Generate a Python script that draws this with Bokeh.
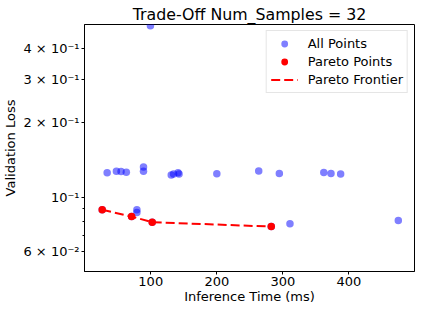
from bokeh.plotting import figure
from bokeh.models import Range1d, FixedTicker, Legend, LegendItem
from bokeh.embed import file_html
from bokeh.resources import INLINE

# All points (inference time in ms, validation loss)
all_time = [34, 48, 55, 63, 89, 89, 79, 79, 131, 134.5, 141.3, 142.8,
            200, 263.4, 294.6, 361.9, 372.8, 387.4, 310.7, 474.7, 99.5,
            26.5, 71.0, 102.2, 282.4]
all_loss = [0.1254, 0.1274, 0.1269, 0.1262, 0.1324, 0.1274, 0.0889, 0.0867,
            0.1228, 0.1240, 0.1254, 0.1240,
            0.1243, 0.1277, 0.1247, 0.1258, 0.1247, 0.1240, 0.0781, 0.0804, 0.494,
            0.0889, 0.0834, 0.0792, 0.0760]

# Pareto points / frontier
pareto_time = [26.5, 71.0, 102.2, 282.4]
pareto_loss = [0.0889, 0.0834, 0.0792, 0.0760]

x_ticks = [100, 200, 300, 400]
y_ticks = [0.06, 0.1, 0.2, 0.3, 0.4]
y_minor = [0.07, 0.08, 0.09]
y_labels = ["6 × 10⁻²", "10⁻¹", "2 × 10⁻¹", "3 × 10⁻¹", "4 × 10⁻¹"]

FONT = "DejaVu Sans"

p = figure(width=416, height=306, y_axis_type="log",
           x_range=Range1d(-0.3, 499.2), y_range=Range1d(0.05, 0.5),
           output_backend="svg", toolbar_location=None,
           min_border_left=84, min_border_right=2, min_border_top=24,
           min_border_bottom=35)

p.title.text = "Trade-Off Num_Samples = 32"
p.title.text_font = FONT
p.title.text_font_size = "15.8px"
p.title.text_font_style = "normal"
p.title.align = "center"
p.title.standoff = 2
p.title.text_color = "black"

p.xgrid.visible = False
p.ygrid.visible = False
p.outline_line_color = "black"
p.outline_line_width = 1
p.outline_line_alpha = 1

for ax in (p.xaxis[0], p.yaxis[0]):
    ax.axis_line_color = "black"
    ax.major_tick_line_color = "black"
    ax.minor_tick_line_color = "black"
    ax.major_tick_in = 0
    ax.minor_tick_in = 0
    ax.major_label_text_font = FONT
    ax.major_label_text_font_size = "13px"
    ax.major_label_text_color = "black"
    ax.axis_label_text_font = FONT
    ax.axis_label_text_font_size = "13px"
    ax.axis_label_text_font_style = "normal"
    ax.axis_label_text_color = "black"

p.xaxis.ticker = FixedTicker(ticks=x_ticks)
p.xaxis.major_tick_out = 3
p.xaxis.minor_tick_out = 0
p.xaxis.major_label_standoff = 2
p.xaxis.axis_label = "Inference Time (ms)"
p.xaxis.axis_label_standoff = 0

p.yaxis.ticker = FixedTicker(ticks=y_ticks, minor_ticks=y_minor)
p.yaxis.major_tick_out = 3
p.yaxis.minor_tick_out = 2
p.yaxis.major_label_standoff = 2
p.yaxis.major_label_overrides = {t: l for t, l in zip(y_ticks, y_labels)}
p.yaxis.axis_label = "Validation Loss"
p.yaxis.axis_label_standoff = 2

r_all = p.scatter(all_time, all_loss, size=7.5, color="blue", alpha=0.5,
                  line_color=None)
r_line = p.line(pareto_time, pareto_loss, line_color="red", line_width=2,
                line_dash="9 4")
r_par = p.scatter(pareto_time, pareto_loss, size=7.5, color="red",
                  line_color=None)

legend = Legend(items=[
    LegendItem(label="All Points", renderers=[r_all]),
    LegendItem(label="Pareto Points", renderers=[r_par]),
    LegendItem(label="Pareto Frontier", renderers=[r_line]),
], location="top_right")
legend.label_text_font = FONT
legend.label_text_font_size = "13px"
legend.label_text_color = "black"
legend.border_line_color = "#cccccc"
legend.border_line_width = 1
legend.background_fill_alpha = 0.8
legend.margin = 6
legend.padding = 4
legend.spacing = 1
legend.glyph_width = 27
legend.glyph_height = 17
legend.label_height = 17
legend.label_standoff = 10
p.add_layout(legend)

open("out.html", "w").write(file_html(p, INLINE))
